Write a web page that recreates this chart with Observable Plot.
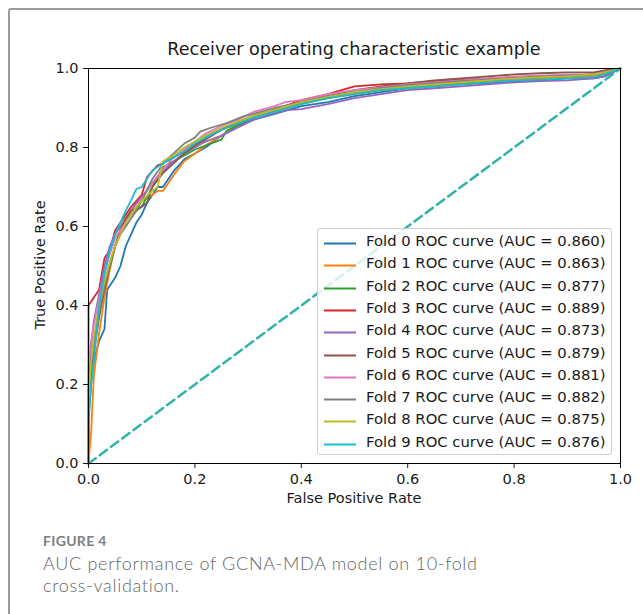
<!DOCTYPE html>
<html><head><meta charset="utf-8">
<script src="https://cdn.jsdelivr.net/npm/d3@7"></script>
<script src="https://cdn.jsdelivr.net/npm/@observablehq/plot@0.6"></script>
<style>
html,body{margin:0;padding:0;background:#fff;}
#wrap{position:relative;width:643px;height:614px;overflow:hidden;background:#fff;}
#card{position:absolute;left:8px;top:8px;width:700px;height:700px;border-top:2px solid #9b9b9b;border-left:2px solid #9b9b9b;border-top-left-radius:3px;box-sizing:border-box;}
#chart{position:absolute;left:0;top:0;}
#title{position:absolute;left:88px;width:532px;top:39px;text-align:center;font:17.6px "DejaVu Sans";color:#1a1a1a;white-space:nowrap;}
#xlabel{position:absolute;left:88px;width:532px;top:490px;text-align:center;font:14.5px "DejaVu Sans";color:#1a1a1a;}
#ylabel{position:absolute;left:40px;top:265px;transform:translate(-50%,-50%) rotate(-90deg);font:14.5px "DejaVu Sans";color:#1a1a1a;white-space:nowrap;}
#legend{position:absolute;left:317px;top:228px;width:295px;height:227px;background:rgba(255,255,255,0.8);border:1px solid #d0d0d0;border-radius:3px;box-sizing:border-box;}
.row{position:absolute;left:0;height:22px;line-height:22px;font:14.8px "DejaVu Sans";color:#1a1a1a;white-space:nowrap;}
.row svg{position:absolute;left:5px;top:10px;}
.row span{position:absolute;left:48px;top:0;}
#fig{position:absolute;left:43px;top:532px;font:700 14px/18px Lato;color:#808080;letter-spacing:0.3px;}
.cap{position:absolute;left:43px;height:22px;font:300 18px/22px Lato;color:#666;letter-spacing:0.7px;white-space:nowrap;}
#cap1{top:552px;}
#cap2{top:574px;}
</style>
</head><body>
<div id="wrap">
  <div id="card"></div>
  <div id="chart"></div>
  <div id="title">Receiver operating characteristic example</div>
  <div id="xlabel">False Positive Rate</div>
  <div id="ylabel">True Positive Rate</div>
  <div id="legend"></div>
  <div id="fig">FIGURE 4</div>
  <div class="cap" id="cap1">AUC performance of GCNA-MDA model on 10-fold</div>
  <div class="cap" id="cap2">cross-validation.</div>
</div>
<script>
const foldNames = ["Fold 0","Fold 1","Fold 2","Fold 3","Fold 4","Fold 5","Fold 6","Fold 7","Fold 8","Fold 9"];
const foldAuc = ["0.860","0.863","0.877","0.889","0.873","0.879","0.881","0.882","0.875","0.876"];
const foldColors = ["#1f77b4","#ff7f0e","#2ca02c","#d62728","#9467bd","#8c564b","#e377c2","#7f7f7f","#bcbd22","#17becf"];
const xTicks = [0,0.2,0.4,0.6,0.8,1.0];
const yTicks = [0,0.2,0.4,0.6,0.8,1.0];
const chanceFpr = [0,1];
const chanceTpr = [0,1];

const fold0 = [[0,0],[0,0.12],[0.005,0.2],[0.01,0.26],[0.02,0.31],[0.03,0.34],[0.035,0.44],[0.04,0.45],[0.05,0.47],[0.06,0.50],[0.07,0.55],[0.08,0.58],[0.09,0.61],[0.10,0.63],[0.11,0.66],[0.12,0.68],[0.13,0.70],[0.14,0.70],[0.16,0.74],[0.18,0.77],[0.20,0.785],[0.22,0.80],[0.25,0.83],[0.28,0.855],[0.31,0.87],[0.35,0.885],[0.40,0.905],[0.45,0.915],[0.50,0.93],[0.55,0.94],[0.60,0.95],[0.65,0.955],[0.70,0.96],[0.75,0.963],[0.80,0.968],[0.85,0.97],[0.90,0.975],[0.95,0.975],[0.97,0.98],[1,1]];
const fold1 = [[0,0],[0.005,0.08],[0.01,0.22],[0.02,0.33],[0.03,0.42],[0.04,0.49],[0.05,0.55],[0.06,0.58],[0.07,0.61],[0.08,0.64],[0.09,0.66],[0.10,0.665],[0.12,0.68],[0.13,0.69],[0.14,0.69],[0.16,0.73],[0.18,0.765],[0.20,0.785],[0.22,0.805],[0.25,0.83],[0.27,0.85],[0.30,0.87],[0.33,0.885],[0.36,0.895],[0.40,0.91],[0.45,0.925],[0.50,0.935],[0.55,0.945],[0.60,0.95],[0.65,0.958],[0.70,0.962],[0.75,0.968],[0.80,0.97],[0.85,0.975],[0.90,0.978],[0.95,0.98],[0.97,0.985],[1,1]];
const fold2 = [[0,0],[0,0.15],[0.005,0.24],[0.01,0.31],[0.02,0.38],[0.03,0.45],[0.04,0.50],[0.05,0.55],[0.06,0.59],[0.07,0.62],[0.08,0.63],[0.09,0.64],[0.10,0.65],[0.12,0.70],[0.14,0.75],[0.16,0.765],[0.18,0.78],[0.20,0.795],[0.22,0.805],[0.25,0.82],[0.26,0.843],[0.28,0.855],[0.31,0.875],[0.35,0.895],[0.40,0.915],[0.45,0.925],[0.50,0.94],[0.55,0.948],[0.60,0.955],[0.65,0.96],[0.70,0.965],[0.75,0.97],[0.80,0.975],[0.85,0.978],[0.90,0.98],[0.95,0.985],[0.97,0.99],[1,1]];
const fold3 = [[0,0],[0,0.40],[0.01,0.42],[0.02,0.44],[0.025,0.48],[0.03,0.52],[0.04,0.54],[0.05,0.59],[0.06,0.61],[0.07,0.63],[0.08,0.65],[0.09,0.665],[0.10,0.68],[0.11,0.725],[0.12,0.74],[0.13,0.755],[0.14,0.76],[0.16,0.775],[0.18,0.79],[0.20,0.805],[0.22,0.825],[0.25,0.845],[0.28,0.86],[0.31,0.875],[0.35,0.895],[0.40,0.92],[0.45,0.935],[0.50,0.955],[0.55,0.96],[0.60,0.962],[0.65,0.968],[0.70,0.972],[0.75,0.975],[0.80,0.978],[0.85,0.98],[0.90,0.982],[0.95,0.985],[0.97,0.99],[1,1]];
const fold4 = [[0,0],[0,0.2],[0.005,0.3],[0.01,0.36],[0.02,0.43],[0.03,0.50],[0.04,0.55],[0.05,0.58],[0.06,0.60],[0.07,0.62],[0.08,0.64],[0.09,0.66],[0.10,0.675],[0.12,0.71],[0.14,0.74],[0.16,0.765],[0.18,0.785],[0.20,0.80],[0.22,0.815],[0.25,0.83],[0.28,0.85],[0.31,0.87],[0.345,0.885],[0.37,0.894],[0.40,0.897],[0.45,0.91],[0.50,0.925],[0.55,0.935],[0.60,0.945],[0.65,0.95],[0.70,0.955],[0.75,0.96],[0.80,0.965],[0.85,0.968],[0.90,0.97],[0.95,0.975],[0.97,0.98],[1,1]];
const fold5 = [[0,0],[0,0.14],[0.005,0.22],[0.01,0.28],[0.02,0.37],[0.03,0.44],[0.04,0.50],[0.05,0.55],[0.06,0.59],[0.07,0.62],[0.08,0.64],[0.09,0.645],[0.10,0.65],[0.11,0.66],[0.12,0.70],[0.14,0.735],[0.16,0.76],[0.18,0.785],[0.20,0.805],[0.22,0.82],[0.25,0.845],[0.28,0.865],[0.31,0.88],[0.35,0.895],[0.40,0.915],[0.45,0.93],[0.50,0.945],[0.55,0.955],[0.60,0.962],[0.65,0.97],[0.70,0.975],[0.75,0.98],[0.80,0.985],[0.85,0.988],[0.90,0.99],[0.95,0.99],[0.97,0.995],[1,1]];
const fold6 = [[0,0],[0,0.25],[0.005,0.31],[0.01,0.35],[0.02,0.42],[0.03,0.48],[0.04,0.53],[0.05,0.57],[0.06,0.59],[0.07,0.61],[0.08,0.63],[0.09,0.65],[0.10,0.67],[0.12,0.71],[0.14,0.745],[0.16,0.775],[0.18,0.795],[0.20,0.815],[0.22,0.835],[0.25,0.855],[0.28,0.87],[0.31,0.89],[0.35,0.905],[0.37,0.915],[0.40,0.92],[0.45,0.935],[0.50,0.945],[0.55,0.952],[0.60,0.96],[0.65,0.965],[0.70,0.97],[0.75,0.975],[0.80,0.98],[0.85,0.982],[0.90,0.985],[0.95,0.985],[0.97,0.99],[1,1]];
const fold7 = [[0,0],[0,0.18],[0.005,0.25],[0.01,0.30],[0.02,0.38],[0.03,0.45],[0.04,0.50],[0.05,0.55],[0.06,0.58],[0.07,0.60],[0.08,0.62],[0.09,0.64],[0.10,0.665],[0.12,0.72],[0.145,0.767],[0.16,0.785],[0.18,0.81],[0.20,0.825],[0.21,0.84],[0.23,0.85],[0.26,0.862],[0.29,0.878],[0.31,0.885],[0.35,0.90],[0.40,0.915],[0.45,0.93],[0.50,0.94],[0.55,0.95],[0.60,0.958],[0.65,0.963],[0.70,0.968],[0.75,0.972],[0.80,0.975],[0.85,0.98],[0.90,0.982],[0.95,0.985],[0.97,0.99],[1,1]];
const fold8 = [[0,0],[0,0.16],[0.005,0.26],[0.01,0.32],[0.02,0.40],[0.03,0.46],[0.04,0.51],[0.05,0.55],[0.06,0.58],[0.07,0.61],[0.08,0.63],[0.09,0.65],[0.10,0.665],[0.12,0.69],[0.13,0.70],[0.14,0.765],[0.16,0.78],[0.18,0.80],[0.20,0.815],[0.22,0.83],[0.25,0.85],[0.28,0.865],[0.31,0.88],[0.35,0.895],[0.40,0.915],[0.45,0.928],[0.50,0.94],[0.55,0.948],[0.60,0.955],[0.65,0.96],[0.70,0.965],[0.75,0.97],[0.80,0.975],[0.85,0.978],[0.90,0.98],[0.95,0.985],[0.97,0.99],[1,1]];
const fold9 = [[0,0],[0,0.1],[0.005,0.2],[0.01,0.26],[0.015,0.33],[0.02,0.40],[0.03,0.48],[0.04,0.54],[0.05,0.58],[0.06,0.61],[0.07,0.64],[0.08,0.666],[0.09,0.695],[0.10,0.70],[0.12,0.742],[0.14,0.76],[0.16,0.775],[0.18,0.79],[0.20,0.81],[0.22,0.825],[0.25,0.845],[0.28,0.86],[0.31,0.875],[0.35,0.89],[0.40,0.91],[0.45,0.925],[0.50,0.935],[0.55,0.945],[0.60,0.95],[0.65,0.955],[0.70,0.96],[0.75,0.965],[0.80,0.97],[0.85,0.972],[0.90,0.975],[0.95,0.978],[0.97,0.985],[1,1]];
const folds = [fold0,fold1,fold2,fold3,fold4,fold5,fold6,fold7,fold8,fold9];

const rows = folds.flatMap((pts, i) => pts.map(([fpr, tpr]) => ({fold: i, fpr, tpr})));
const chance = chanceFpr.map((x, i) => ({fpr: x, tpr: chanceTpr[i]}));
const fmt = d => d.toFixed(1);

const chart = Plot.plot({
  width: 643,
  height: 520,
  marginLeft: 88,
  marginRight: 23,
  marginTop: 68,
  marginBottom: 57,
  style: {fontFamily: "DejaVu Sans", fontSize: "14.5px", color: "#1a1a1a", background: "transparent"},
  x: {domain: [0, 1]},
  y: {domain: [0, 1]},
  color: {type: "ordinal", domain: d3.range(10), range: foldColors},
  marks: [
    Plot.line(rows, {x: "fpr", y: "tpr", z: "fold", stroke: "fold", strokeWidth: 1.8}),
    Plot.line(chance, {x: "fpr", y: "tpr", stroke: "#2fb3aa", strokeWidth: 2.5, strokeDasharray: "9,5"}),
    Plot.frame({stroke: "#000", strokeWidth: 1}),
    Plot.axisX({ticks: xTicks, tickFormat: fmt, tickSize: 5, tickPadding: 5, label: null}),
    Plot.axisY({ticks: yTicks, tickFormat: fmt, tickSize: 5, tickPadding: 5, label: null})
  ]
});
document.getElementById("chart").appendChild(chart);

const legend = document.getElementById("legend");
foldNames.forEach((name, i) => {
  const row = document.createElement("div");
  row.className = "row";
  row.style.top = (241 - 228 - 11 + 22.3 * i + 1) + "px";
  row.innerHTML = `<svg width="34" height="3"><line x1="1" y1="1.5" x2="33" y2="1.5" stroke="${foldColors[i]}" stroke-width="2"/></svg><span>${name} ROC curve (AUC = ${foldAuc[i]})</span>`;
  legend.appendChild(row);
});
</script>
</body></html>
